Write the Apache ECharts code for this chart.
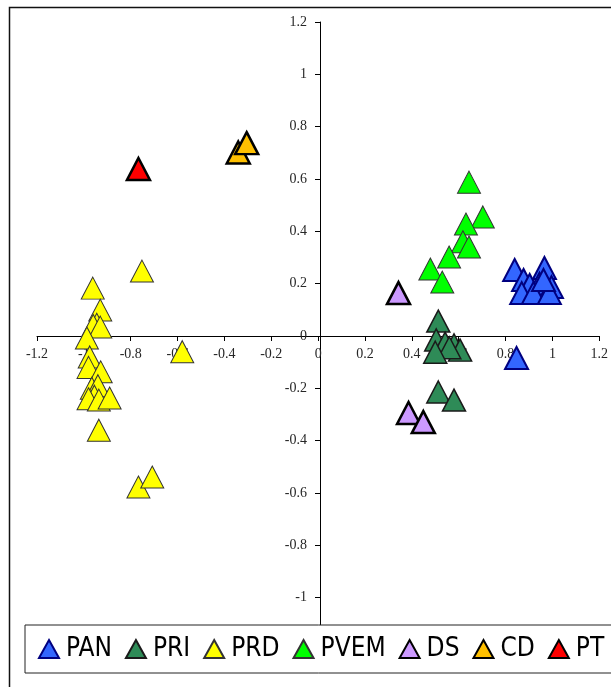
<!DOCTYPE html>
<html>
<head>
<meta charset="utf-8">
<script src="https://cdn.jsdelivr.net/npm/echarts@6/dist/echarts.min.js"></script>
<style>
html,body{margin:0;padding:0;background:#fff;}
#chart{width:611px;height:687px;}
</style>
</head>
<body>
<div id="chart"></div>
<script>
// ---- Data (x, y) per party ----
const seriesNames = ['PAN', 'PRI', 'PRD', 'PVEM', 'DS', 'CD', 'PT'];

const PAN = [
  [0.839, 0.252], [0.966, 0.260], [0.877, 0.214], [0.903, 0.195], [0.945, 0.200],
  [0.996, 0.187], [0.869, 0.164], [0.919, 0.164], [0.987, 0.164], [0.962, 0.214],
  [0.847, -0.084]
];
const PRI = [
  [0.513, 0.057], [0.504, -0.015], [0.542, -0.027], [0.580, -0.034], [0.606, -0.054],
  [0.560, -0.045], [0.500, -0.062], [0.513, -0.214], [0.580, -0.245]
];
const PRD = [
  [-0.752, 0.248], [-0.962, 0.183], [-0.930, 0.099], [-0.945, 0.045], [-0.960, 0.040],
  [-0.930, 0.034], [-0.987, -0.008], [-0.975, -0.080], [-0.980, -0.120], [-0.928, -0.137],
  [-0.966, -0.200], [-0.940, -0.190], [-0.955, -0.230], [-0.980, -0.240], [-0.936, -0.245],
  [-0.890, -0.237], [-0.936, -0.360], [-0.580, -0.060], [-0.767, -0.577], [-0.708, -0.539]
];
const PVEM = [
  [0.644, 0.588], [0.703, 0.455], [0.631, 0.428], [0.618, 0.360], [0.644, 0.340],
  [0.559, 0.302], [0.479, 0.256], [0.530, 0.206]
];
const DS = [
  [0.343, 0.164], [0.386, -0.294], [0.449, -0.329]
];
const CD = [
  [-0.341, 0.701], [-0.305, 0.737]
];
const PT = [
  [-0.767, 0.638]
];

const axisTicks = { min: -1.2, max: 1.2, interval: 0.2 };

// ---- Styles ----
const styles = {
  PAN:  { color: '#3366FF', borderColor: '#000080', borderWidth: 2 },
  PRI:  { color: '#2E8B57', borderColor: '#1a1a1a', borderWidth: 1.5 },
  PRD:  { color: '#FFFF00', borderColor: '#333333', borderWidth: 1 },
  PVEM: { color: '#00FF00', borderColor: '#333333', borderWidth: 1 },
  DS:   { color: '#CC99FF', borderColor: '#000000', borderWidth: 2.5 },
  CD:   { color: '#FFC000', borderColor: '#000000', borderWidth: 2.5 },
  PT:   { color: '#FF0000', borderColor: '#000000', borderWidth: 2.5 }
};
const dataMap = { PAN, PRI, PRD, PVEM, DS, CD, PT };

const labelFont = { fontFamily: '"Liberation Serif", "Times New Roman", serif', fontSize: 14, color: '#262626' };

// grid geometry
const G = { left: 37, right: 8, top: 22, bottom: 37, width: 611 - 37 - 8, height: 687 - 22 - 37 };
// offsets so the axes cross at the zero point
const xOff = -G.height * (0 - axisTicks.min) / (axisTicks.max - axisTicks.min);
const yOff = -G.width * (0 - axisTicks.min) / (axisTicks.max - axisTicks.min);

const chart = echarts.init(document.getElementById('chart'), null, { renderer: 'canvas' });
chart.setOption({
  animation: false,
  backgroundColor: '#ffffff',
  grid: { left: G.left, right: G.right, top: G.top, bottom: G.bottom, containLabel: false },
  xAxis: {
    type: 'value', min: axisTicks.min, max: axisTicks.max, interval: axisTicks.interval,
    position: 'bottom', offset: xOff,
    axisLine: { onZero: false, lineStyle: { color: '#000', width: 1 } },
    axisTick: { show: true, inside: false, length: 5, lineStyle: { color: '#000' } },
    axisLabel: Object.assign({ margin: 11, showMinLabel: true, showMaxLabel: true }, labelFont),
    splitLine: { show: false }
  },
  yAxis: {
    type: 'value', min: axisTicks.min, max: axisTicks.max, interval: axisTicks.interval,
    position: 'left', offset: yOff,
    axisLine: { onZero: false, lineStyle: { color: '#000', width: 1 } },
    axisTick: { show: true, inside: false, length: 5, lineStyle: { color: '#000' } },
    axisLabel: Object.assign({ margin: 13, showMinLabel: true, showMaxLabel: true }, labelFont),
    splitLine: { show: false }
  },
  legend: {
    left: 25, top: 625, width: 900,
    orient: 'horizontal',
    data: seriesNames,
    icon: 'triangle',
    itemWidth: 20, itemHeight: 18,
    itemGap: 13,
    padding: [11, 12, 11, 13],
    backgroundColor: '#ffffff',
    borderColor: '#222',
    borderWidth: 1,
    textStyle: { fontFamily: '"DejaVu Sans Condensed", "DejaVu Sans", sans-serif', fontSize: 26, color: '#000', padding: [0, 0, 0, 2] },
    z: 10
  },
  graphic: [{
    type: 'rect', left: 7, top: 5, z: 100, silent: true,
    shape: { x: 0, y: 0, width: 700, height: 800 },
    style: { fill: 'none', stroke: '#111', lineWidth: 1.5 }
  }],
  series: seriesNames.map(n => ({
    name: n, type: 'scatter', symbol: 'triangle', symbolSize: [23, 22],
    data: dataMap[n],
    itemStyle: Object.assign({ opacity: 1 }, styles[n]),
    emphasis: { disabled: true }
  }))
});
</script>
</body>
</html>
